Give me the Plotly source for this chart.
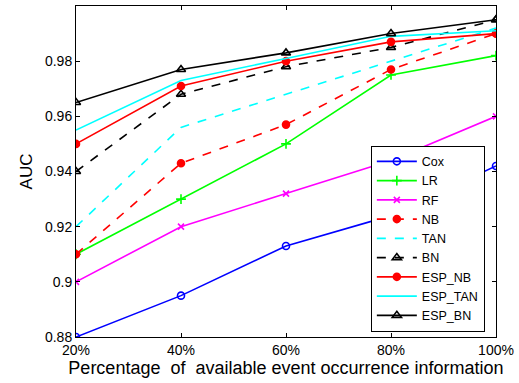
import plotly.graph_objects as go

x_labels = ["20%", "40%", "60%", "80%", "100%"]
x_vals = [20, 40, 60, 80, 100]

cox = [0.880, 0.895, 0.913, 0.924, 0.942]
lr = [0.910, 0.930, 0.950, 0.975, 0.982]
rf = [0.900, 0.920, 0.932, 0.944, 0.960]
nb = [0.910, 0.943, 0.957, 0.977, 0.990]
tan = [0.920, 0.956, 0.968, 0.980, 0.992]
bn = [0.940, 0.968, 0.978, 0.985, 0.995]
esp_nb = [0.950, 0.971, 0.980, 0.987, 0.990]
esp_tan = [0.955, 0.973, 0.981, 0.989, 0.991]
esp_bn = [0.965, 0.977, 0.983, 0.990, 0.995]

series = [
    ("Cox", cox, "#0000FF", "solid", "circle-open", 7),
    ("LR", lr, "#00FF00", "solid", "cross-thin-open", 7),
    ("RF", rf, "#FF00FF", "solid", "x-thin-open", 6),
    ("NB", nb, "#FF0000", "dash", "circle", 7),
    ("TAN", tan, "#00FFFF", "dash", None, 0),
    ("BN", bn, "#000000", "dash", "triangle-up-open", 8),
    ("ESP_NB", esp_nb, "#FF0000", "solid", "circle", 7),
    ("ESP_TAN", esp_tan, "#00FFFF", "solid", None, 0),
    ("ESP_BN", esp_bn, "#000000", "solid", "triangle-up-open", 8),
]

fig = go.Figure()
for name, y, color, dash, sym, size in series:
    kw = dict(x=x_vals, y=y, name=name,
              line=dict(color=color, width=1.6, dash=dash))
    if sym:
        kw["mode"] = "lines+markers"
        kw["marker"] = dict(symbol=sym, size=size, color=color,
                            line=dict(color=color, width=1.6))
    else:
        kw["mode"] = "lines"
    fig.add_trace(go.Scatter(**kw))

font_family = "Liberation Sans, Arial, sans-serif"
fig.update_layout(
    width=519, height=383,
    margin=dict(l=76, r=23, t=6, b=46),
    paper_bgcolor="white", plot_bgcolor="white",
    font=dict(family=font_family, size=14, color="black"),
    showlegend=True,
    legend=dict(x=0.702, y=0.016, xanchor="left", yanchor="bottom",
                bgcolor="white", bordercolor="black", borderwidth=1,
                font=dict(size=12.5), itemwidth=40, tracegroupgap=0),
    xaxis=dict(range=[20, 100], tickvals=x_vals, ticktext=x_labels,
               ticks="inside", ticklen=4, tickcolor="black",
               showline=True, linecolor="black", linewidth=1, mirror="ticks",
               showgrid=False, zeroline=False,
               title=dict(text="Percentage\u00a0\u00a0of\u00a0\u00a0available event occurrence information",
                          font=dict(size=18), standoff=0)),
    yaxis=dict(range=[0.88, 1.0], tickvals=[0.88, 0.9, 0.92, 0.94, 0.96, 0.98, 1.0],
               ticktext=["0.88", "0.9", "0.92", "0.94", "0.96", "0.98", "1"],
               ticks="inside", ticklen=4, tickcolor="black",
               showline=True, linecolor="black", linewidth=1, mirror="ticks",
               showgrid=False, zeroline=False,
               title=dict(text="AUC", font=dict(size=17), standoff=8)),
)

fig.write_html("out.html")
